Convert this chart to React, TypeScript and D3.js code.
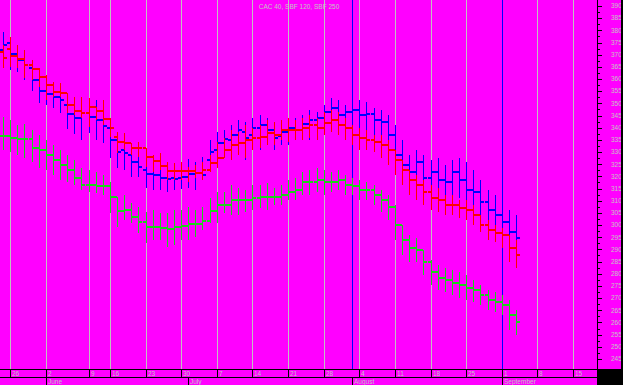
import React, { useEffect, useRef } from 'react';
import * as d3 from 'd3';

const WIDTH = 623;
const HEIGHT = 385;

// layout of the frame
const PLOT_RIGHT = 597;
const DAY_ROW_TOP = 369;
const MONTH_ROW_TOP = 377;

const TITLE = 'CAC 40, SBF 120, SBF 250';

// right axis labels
const axisLabels = [390, 385, 380, 375, 370, 365, 360, 355, 350, 345, 340, 335, 330, 325, 320, 315,
  310, 305, 300, 295, 290, 285, 280, 275, 270, 265, 260, 255, 250, 245];

// weekly grid (bar index) and day labels
const gridIndex = [1, 6, 12, 15, 20, 25, 30, 35, 40, 45, 50, 55, 60, 65, 70, 75, 80];
const dayLabels = ['26', '2', '9', '16', '23', '30', '7', '14', '21', '28', '4', '11', '18', '25', '1', '8', '15'];

// month starts (bar index)
const monthIndex = [6, 26, 49, 70];
const monthLabels = ['June', 'July', 'August', 'September'];
const markedMonths = [49, 70];

// blue series
const blueOpen = [372.0, 374.8, 370.3, 367.8, 364.5, 359.6, 355.1, 353.9, 352.6, 349.3, 345.6, 344.0, 346.1, 344.4, 343.2, 339.9, 335.0, 330.9, 328.8, 325.9, 322.6, 321.0, 320.6, 319.3, 319.3, 319.3, 319.8, 321.0, 321.4, 326.7, 330.9, 333.7, 335.0, 337.0, 338.2, 337.0, 339.9, 341.1, 339.1, 336.6, 338.2, 339.9, 339.1, 341.5, 343.2, 344.0, 346.5, 348.1, 345.2, 346.5, 347.3, 345.2, 345.6, 343.2, 342.4, 337.0, 328.8, 324.7, 321.8, 325.9, 319.3, 321.8, 318.5, 317.7, 321.8, 318.5, 314.4, 313.6, 309.5, 306.2, 304.1, 301.3, 297.1];
const blueHigh = [379.3, 377.3, 374.0, 372.0, 367.8, 363.7, 360.4, 358.8, 357.6, 353.5, 351.4, 351.4, 350.2, 351.4, 343.2, 341.1, 335.0, 335.0, 330.9, 328.8, 323.9, 323.9, 322.6, 322.6, 321.8, 323.5, 327.2, 325.9, 328.0, 335.0, 338.2, 339.1, 341.1, 343.2, 342.4, 344.0, 345.2, 344.0, 341.1, 342.4, 344.0, 344.0, 345.2, 347.3, 346.5, 349.3, 352.2, 351.4, 349.3, 351.4, 351.4, 350.6, 348.1, 347.3, 345.2, 341.1, 335.0, 328.8, 330.9, 328.8, 326.7, 327.6, 324.7, 326.7, 327.6, 325.9, 322.6, 318.5, 314.4, 312.4, 310.3, 306.2, 304.1];
const blueLow = [369.9, 363.7, 362.9, 359.6, 355.1, 350.2, 349.3, 348.1, 346.1, 339.5, 337.4, 335.0, 337.8, 335.0, 333.7, 327.6, 323.5, 322.6, 319.8, 319.8, 315.2, 314.4, 314.4, 313.6, 314.4, 314.8, 315.2, 314.4, 318.5, 323.9, 325.5, 328.8, 328.8, 330.9, 326.7, 332.9, 330.9, 335.0, 330.9, 332.9, 332.9, 335.0, 335.8, 335.0, 337.0, 339.1, 341.1, 339.1, 339.1, 339.9, 339.1, 339.1, 337.0, 335.0, 330.9, 324.7, 318.5, 314.4, 316.5, 312.4, 314.4, 312.4, 310.3, 312.4, 311.1, 308.2, 308.2, 304.1, 300.0, 298.0, 295.9, 291.8, 289.8];
const blueClose = [374.0, 370.3, 367.8, 365.8, 359.6, 355.1, 353.9, 352.6, 351.4, 345.6, 344.0, 346.1, 344.4, 343.2, 340.7, 335.0, 330.0, 329.6, 325.9, 323.9, 321.0, 320.6, 319.3, 318.9, 318.9, 319.8, 321.0, 321.4, 320.6, 330.0, 333.7, 335.4, 337.0, 339.1, 335.8, 339.9, 341.1, 339.1, 335.8, 338.2, 339.9, 339.1, 341.5, 343.2, 344.0, 346.5, 348.1, 345.2, 346.5, 347.3, 345.2, 345.6, 343.2, 342.4, 337.0, 328.8, 324.7, 321.8, 325.9, 319.3, 321.8, 318.5, 317.7, 321.8, 318.5, 314.4, 313.6, 309.5, 306.2, 304.1, 301.3, 297.1, 294.7];

// red series
const redOpen = [371.1, 372.4, 369.5, 368.3, 365.8, 364.1, 360.9, 357.6, 354.7, 354.3, 349.3, 346.9, 346.1, 348.5, 346.9, 343.6, 336.2, 334.1, 333.7, 331.7, 331.7, 328.0, 326.3, 324.3, 322.2, 322.2, 322.2, 322.2, 321.4, 322.6, 325.5, 327.6, 330.9, 332.9, 333.7, 335.0, 335.8, 336.2, 337.8, 337.0, 339.1, 339.1, 339.1, 339.9, 341.1, 339.9, 342.0, 343.2, 341.1, 339.9, 337.0, 335.8, 335.0, 334.1, 332.9, 330.9, 326.7, 322.6, 318.5, 316.5, 313.6, 311.1, 310.3, 308.2, 308.2, 307.0, 306.2, 304.1, 300.0, 298.0, 296.7, 295.9, 290.6];
const redHigh = [374.0, 377.3, 374.0, 372.0, 367.8, 364.5, 361.7, 358.8, 358.4, 354.3, 352.6, 352.6, 352.2, 348.5, 351.4, 344.0, 338.2, 337.8, 333.7, 334.1, 331.7, 328.8, 329.6, 325.9, 325.5, 325.9, 323.9, 324.7, 325.9, 328.8, 334.1, 335.8, 339.1, 338.2, 341.1, 339.9, 341.1, 343.2, 342.4, 343.2, 344.0, 343.2, 344.0, 345.2, 344.0, 346.5, 347.3, 346.5, 344.0, 341.1, 339.9, 339.1, 337.0, 337.0, 335.0, 330.9, 326.7, 322.6, 320.6, 318.5, 316.5, 315.2, 312.4, 312.4, 310.3, 310.3, 308.2, 304.1, 302.1, 300.0, 298.8, 295.9, 293.9];
const redLow = [364.5, 365.0, 364.5, 360.4, 359.6, 356.7, 351.4, 352.6, 352.6, 346.1, 345.2, 344.0, 340.3, 343.2, 341.1, 336.2, 329.6, 330.9, 328.8, 328.0, 323.9, 321.8, 322.6, 318.5, 318.5, 318.5, 317.7, 319.3, 318.5, 321.8, 323.5, 327.6, 326.7, 328.8, 327.6, 330.9, 331.7, 332.9, 332.9, 335.0, 334.1, 335.0, 335.0, 335.8, 335.0, 337.0, 338.2, 337.0, 335.0, 332.9, 330.9, 330.9, 330.0, 327.6, 324.7, 320.6, 316.5, 312.4, 310.3, 308.2, 306.2, 305.4, 304.1, 304.1, 302.9, 302.1, 300.0, 297.1, 293.9, 293.0, 290.6, 284.8, 282.4];
const redClose = [368.7, 369.5, 368.3, 365.8, 364.1, 360.9, 357.6, 354.7, 354.3, 349.3, 346.9, 346.1, 348.5, 346.9, 343.6, 339.9, 334.1, 333.7, 331.7, 331.7, 328.0, 326.3, 324.3, 322.2, 322.2, 322.2, 322.2, 321.4, 322.6, 325.5, 327.6, 330.9, 332.9, 333.7, 335.0, 335.8, 336.2, 337.8, 337.0, 339.1, 339.1, 339.1, 339.9, 341.1, 339.9, 342.0, 343.2, 341.1, 339.9, 337.0, 335.8, 335.0, 334.1, 332.9, 330.9, 326.7, 322.6, 318.5, 316.5, 313.6, 311.1, 310.3, 308.2, 308.2, 307.0, 306.2, 304.1, 300.0, 298.0, 296.7, 295.9, 290.6, 287.7];

// green series
const greenOpen = [336.6, 336.6, 335.8, 335.4, 335.4, 331.7, 330.9, 328.8, 326.7, 324.7, 322.6, 319.3, 316.5, 316.5, 316.1, 316.1, 311.5, 305.8, 306.2, 303.3, 301.3, 299.2, 299.2, 298.8, 298.4, 299.2, 299.6, 300.4, 300.4, 301.7, 305.8, 308.2, 308.2, 310.3, 310.3, 310.3, 311.1, 311.5, 311.5, 311.5, 312.4, 313.6, 314.4, 317.7, 317.7, 318.5, 317.7, 317.7, 318.5, 316.5, 316.1, 314.4, 314.4, 312.4, 310.3, 307.4, 300.0, 293.9, 290.6, 289.8, 284.8, 280.7, 278.2, 277.4, 276.2, 275.4, 274.1, 273.3, 271.3, 269.2, 268.4, 267.1, 263.0];
const greenHigh = [344.4, 343.2, 341.1, 341.5, 339.1, 337.0, 335.0, 332.9, 330.9, 328.8, 326.7, 323.5, 322.6, 321.8, 320.6, 317.7, 311.5, 312.4, 309.1, 307.4, 305.4, 306.2, 305.0, 305.0, 306.2, 306.2, 307.4, 306.2, 307.4, 311.1, 313.6, 313.6, 316.5, 315.2, 314.4, 316.5, 316.5, 317.3, 315.2, 316.5, 318.5, 319.3, 321.8, 322.6, 323.5, 322.6, 321.8, 322.6, 320.6, 319.3, 318.5, 317.7, 316.5, 314.4, 312.4, 308.2, 300.0, 295.9, 294.7, 289.8, 285.6, 283.6, 282.4, 281.5, 280.7, 279.5, 277.4, 275.4, 273.3, 272.5, 271.3, 269.2, 265.1];
const greenLow = [330.9, 330.0, 328.8, 327.6, 325.9, 323.5, 322.6, 320.6, 318.5, 317.7, 316.5, 314.4, 313.6, 313.2, 312.4, 305.0, 299.2, 302.1, 300.9, 296.7, 292.6, 293.9, 293.9, 291.0, 291.8, 293.9, 293.9, 295.1, 298.0, 300.9, 300.9, 305.0, 304.1, 304.1, 305.4, 306.2, 307.0, 306.2, 308.2, 308.2, 310.3, 310.3, 312.4, 312.4, 313.6, 312.4, 313.6, 314.4, 312.4, 312.4, 310.3, 310.3, 308.2, 305.4, 302.1, 293.9, 287.7, 284.8, 284.8, 279.5, 275.4, 273.3, 272.5, 271.3, 270.0, 269.2, 268.4, 267.1, 265.1, 264.3, 263.0, 256.9, 254.8];
const greenClose = [336.6, 335.8, 335.4, 335.4, 331.7, 330.9, 328.8, 326.7, 324.7, 322.6, 319.3, 316.5, 316.5, 316.1, 316.1, 311.5, 305.8, 306.2, 303.3, 301.3, 299.2, 299.2, 298.8, 298.4, 299.2, 299.6, 300.4, 300.4, 301.7, 305.8, 308.2, 308.2, 310.3, 310.3, 310.3, 311.1, 311.5, 311.5, 311.5, 312.4, 313.6, 314.4, 317.7, 317.7, 318.5, 317.7, 317.7, 318.5, 316.5, 316.1, 314.4, 314.4, 312.4, 310.3, 307.4, 300.0, 293.9, 290.6, 289.8, 284.8, 280.7, 278.2, 277.4, 276.2, 275.4, 274.1, 273.3, 271.3, 269.2, 268.4, 267.1, 263.0, 260.2];

const TEXT_FONT = '"Liberation Sans", Arial, sans-serif';
const TEXT_COLOR = '#c4c4c4';

export default function App() {
  const svgRef = useRef<SVGSVGElement>(null);

  useEffect(() => {
    const svg = d3.select(svgRef.current);
    svg.selectAll('*').remove();

    // bar index -> x, value -> y
    const x = d3.scaleLinear().domain([0, 80]).range([3, 573]);
    const y = d3.scaleLinear()
      .domain([axisLabels[0], axisLabels[axisLabels.length - 1]])
      .range([6, 6 + 12.17 * (axisLabels.length - 1)]);

    svg.append('rect')
      .attr('width', WIDTH).attr('height', HEIGHT)
      .attr('fill', '#ff00ff');

    // weekly grid
    svg.selectAll('.grid')
      .data(gridIndex)
      .enter()
      .append('line')
      .attr('x1', (d) => Math.round(x(d)) + 0.5)
      .attr('x2', (d) => Math.round(x(d)) + 0.5)
      .attr('y1', 0)
      .attr('y2', DAY_ROW_TOP)
      .attr('stroke', '#c0c0c0');

    svg.selectAll('.month-mark')
      .data(markedMonths)
      .enter()
      .append('line')
      .attr('x1', (d) => Math.round(x(d)) + 0.5)
      .attr('x2', (d) => Math.round(x(d)) + 0.5)
      .attr('y1', 0)
      .attr('y2', DAY_ROW_TOP)
      .attr('stroke', '#0000ff');

    // OHLC bars, red drawn last
    const series = [
      { open: greenOpen, high: greenHigh, low: greenLow, close: greenClose, color: '#1fcf1f' },
      { open: blueOpen, high: blueHigh, low: blueLow, close: blueClose, color: '#0000ff' },
      { open: redOpen, high: redHigh, low: redLow, close: redClose, color: '#ff0000' },
    ];

    series.forEach((s) => {
      const g = svg.append('g').attr('fill', s.color);
      const idx = d3.range(s.open.length);
      g.selectAll('.hl')
        .data(idx)
        .enter()
        .append('rect')
        .attr('x', (i) => Math.round(x(i)))
        .attr('y', (i) => Math.round(y(s.high[i])))
        .attr('width', 1)
        .attr('height', (i) => Math.max(1, Math.round(y(s.low[i])) - Math.round(y(s.high[i]))));
      g.selectAll('.op')
        .data(idx)
        .enter()
        .append('rect')
        .attr('x', (i) => Math.round(x(i)) - 3)
        .attr('y', (i) => Math.round(y(s.open[i])) - 1)
        .attr('width', 3)
        .attr('height', 2);
      g.selectAll('.cl')
        .data(idx)
        .enter()
        .append('rect')
        .attr('x', (i) => Math.round(x(i)) + 1)
        .attr('y', (i) => Math.round(y(s.close[i])) - 1)
        .attr('width', 3)
        .attr('height', 2);
    });

    // right axis
    svg.append('line')
      .attr('x1', PLOT_RIGHT + 0.5).attr('x2', PLOT_RIGHT + 0.5)
      .attr('y1', 0).attr('y2', DAY_ROW_TOP)
      .attr('stroke', '#000');

    const minor = axisLabels.slice(1).map((v) => v + 2.5);
    svg.selectAll('.tick-major')
      .data(axisLabels)
      .enter()
      .append('line')
      .attr('x1', PLOT_RIGHT).attr('x2', PLOT_RIGHT + 5)
      .attr('y1', (d) => Math.round(y(d)) + 0.5)
      .attr('y2', (d) => Math.round(y(d)) + 0.5)
      .attr('stroke', '#000');
    svg.selectAll('.tick-minor')
      .data(minor)
      .enter()
      .append('line')
      .attr('x1', PLOT_RIGHT).attr('x2', PLOT_RIGHT + 3)
      .attr('y1', (d) => Math.round(y(d)) + 0.5)
      .attr('y2', (d) => Math.round(y(d)) + 0.5)
      .attr('stroke', '#000');

    svg.selectAll('.ylab')
      .data(axisLabels)
      .enter()
      .append('text')
      .attr('x', 611)
      .attr('y', (d) => y(d) + 2.3)
      .attr('font-family', TEXT_FONT)
      .attr('font-size', '6.5px')
      .attr('fill', TEXT_COLOR)
      .text((d) => d);

    svg.append('rect')
      .attr('x', 621).attr('y', 0)
      .attr('width', 2).attr('height', DAY_ROW_TOP)
      .attr('fill', '#000');

    // bottom date rows
    [DAY_ROW_TOP, MONTH_ROW_TOP].forEach((yy) => {
      svg.append('line')
        .attr('x1', 0).attr('x2', PLOT_RIGHT)
        .attr('y1', yy + 0.5).attr('y2', yy + 0.5)
        .attr('stroke', '#000');
    });

    svg.selectAll('.day-sep')
      .data(gridIndex)
      .enter()
      .append('line')
      .attr('x1', (d) => Math.round(x(d)) + 0.5)
      .attr('x2', (d) => Math.round(x(d)) + 0.5)
      .attr('y1', DAY_ROW_TOP)
      .attr('y2', MONTH_ROW_TOP)
      .attr('stroke', '#000');

    svg.selectAll('.day-lab')
      .data(gridIndex)
      .enter()
      .append('text')
      .attr('x', (d) => Math.round(x(d)) + 2)
      .attr('y', DAY_ROW_TOP + 7)
      .attr('font-family', TEXT_FONT)
      .attr('font-size', '6.5px')
      .attr('fill', TEXT_COLOR)
      .text((d, i) => dayLabels[i]);

    svg.selectAll('.month-sep')
      .data(monthIndex)
      .enter()
      .append('line')
      .attr('x1', (d) => Math.round(x(d)) + 0.5)
      .attr('x2', (d) => Math.round(x(d)) + 0.5)
      .attr('y1', MONTH_ROW_TOP)
      .attr('y2', HEIGHT)
      .attr('stroke', '#000');

    svg.selectAll('.month-lab')
      .data(monthIndex)
      .enter()
      .append('text')
      .attr('x', (d) => Math.round(x(d)) + 2)
      .attr('y', MONTH_ROW_TOP + 7)
      .attr('font-family', TEXT_FONT)
      .attr('font-size', '6.5px')
      .attr('fill', TEXT_COLOR)
      .text((d, i) => monthLabels[i]);

    svg.append('rect')
      .attr('x', PLOT_RIGHT).attr('y', DAY_ROW_TOP)
      .attr('width', WIDTH - PLOT_RIGHT).attr('height', HEIGHT - DAY_ROW_TOP)
      .attr('fill', '#000');

    // title
    svg.append('text')
      .attr('x', 299)
      .attr('y', 8.5)
      .attr('text-anchor', 'middle')
      .attr('font-family', TEXT_FONT)
      .attr('font-size', '6.5px')
      .attr('fill', TEXT_COLOR)
      .text(TITLE);
  }, []);

  return (
    <svg
      ref={svgRef}
      width={WIDTH}
      height={HEIGHT}
      style={{ position: 'absolute', left: 0, top: 0, display: 'block' }}
    />
  );
}
